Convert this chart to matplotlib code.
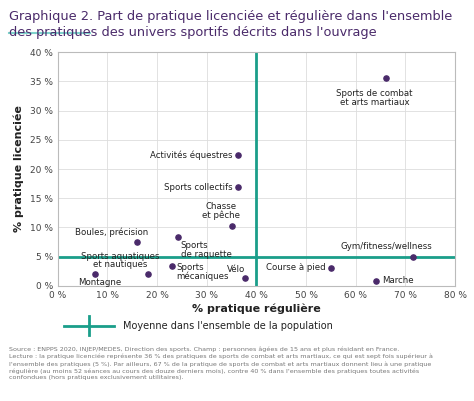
import matplotlib
matplotlib.use("Agg")
import matplotlib.pyplot as plt

names = ["Sports de combat\net arts martiaux", "Activités équestres", "Sports collectifs",
         "Chasse\net pêche", "Sports\nde raquette", "Boules, précision",
         "Sports aquatiques\net nautiques", "Montagne", "Sports\nmécaniques", "Vélo",
         "Course à pied", "Marche", "Gym/fitness/wellness"]
regular = [66, 36.3, 36.3, 35.1, 24.2, 15.9, 18.1, 7.5, 23.0, 37.7, 55.0, 64.0, 71.5]
licensed = [35.6, 22.4, 16.9, 10.3, 8.4, 7.5, 2.1, 2.0, 3.4, 1.4, 3.1, 0.9, 5.0]
# label offsets (points) and alignment
offs = [(-8, -8, "center", "top"), (-4, 0, "right", "center"), (-4, 0, "right", "center"),
        (-8, 4, "center", "bottom"), (2, -3, "left", "top"), (8, 4, "right", "bottom"),
        (-20, 3, "center", "bottom"), (-12, -3, "left", "top"), (3, 2, "left", "top"),
        (0, 3, "right", "bottom"), (-4, 0, "right", "center"), (5, 0, "left", "center"),
        (14, 4, "right", "bottom")]
mean_x, mean_y = 40, 5

purple = "#4a2a6a"
teal = "#1a9e8a"
fig = plt.figure(figsize=(4.74, 4.01), dpi=100)
ax = fig.add_axes([0.122, 0.287, 0.838, 0.583])
ax.axvline(mean_x, color=teal, lw=2, zorder=1)
ax.axhline(mean_y, color=teal, lw=2, zorder=1)
ax.scatter(regular, licensed, s=14, color=purple, zorder=3)
for n, x, y, (dx, dy, ha, va) in zip(names, regular, licensed, offs):
    ax.annotate(n, (x, y), xytext=(dx, dy), textcoords="offset points", ha=ha, va=va,
                fontsize=6.2, color="#222222", linespacing=0.95)
ax.set_xlim(0, 80); ax.set_ylim(0, 40)
ax.set_xticks(range(0, 81, 10)); ax.set_yticks(range(0, 41, 5))
ax.set_xticklabels([f"{v} %" for v in range(0, 81, 10)], fontsize=6.5)
ax.set_yticklabels([f"{v} %" for v in range(0, 41, 5)], fontsize=6.5)
ax.grid(True, color="#dddddd", lw=0.6); ax.set_axisbelow(True)
ax.tick_params(length=0, colors="#444444")
for s in ax.spines.values():
    s.set_color("#bbbbbb")
ax.set_xlabel("% pratique régulière", fontsize=8, fontweight="bold", color="#222222", labelpad=3)
ax.set_ylabel("% pratique licenciée", fontsize=8, fontweight="bold", color="#222222")

fig.text(0.02, 0.975, "Graphique 2. Part de pratique licenciée et régulière dans l'ensemble\n"
         "des pratiques des univers sportifs décrits dans l'ouvrage",
         fontsize=9.3, color=purple, va="top", linespacing=1.25)
fig.lines.append(plt.Line2D([0.02, 0.19], [0.917, 0.917], color="#7fd3cc", lw=1.5, transform=fig.transFigure))
fig.lines.append(plt.Line2D([0.135, 0.24], [0.188, 0.188], color=teal, lw=2, transform=fig.transFigure))
fig.lines.append(plt.Line2D([0.188, 0.188], [0.165, 0.211], color=teal, lw=2, transform=fig.transFigure))
fig.text(0.26, 0.188, "Moyenne dans l'ensemble de la population", fontsize=7, va="center", color="#222222")
fig.text(0.02, 0.135,
         "Source : ENPPS 2020, INJEP/MEDES, Direction des sports. Champ : personnes âgées de 15 ans et plus résidant en France.\n"
         "Lecture : la pratique licenciée représente 36 % des pratiques de sports de combat et arts martiaux, ce qui est sept fois supérieur à\n"
         "l'ensemble des pratiques (5 %). Par ailleurs, 67 % de la pratique de sports de combat et arts martiaux donnent lieu à une pratique\n"
         "régulière (au moins 52 séances au cours des douze derniers mois), contre 40 % dans l'ensemble des pratiques toutes activités\n"
         "confondues (hors pratiques exclusivement utilitaires).",
         fontsize=4.6, color="#777777", va="top", linespacing=1.35)
fig.savefig("out.png", dpi=100)
